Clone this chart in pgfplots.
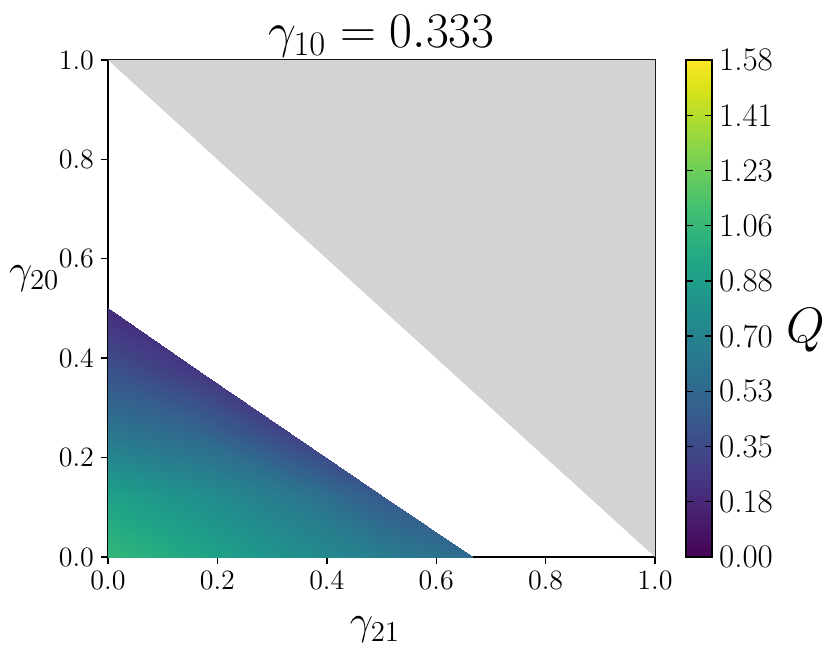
\documentclass[border=0pt]{standalone}
\usepackage{pgfplots}
\pgfplotsset{compat=1.18}
\begin{document}
\begin{tikzpicture}
\path[use as bounding box] (-54pt,-53.5pt) rectangle (361pt,278.5pt);
\begin{axis}[
  at={(0,0)}, anchor=south west,
  scale only axis, width=273.5pt, height=248.5pt,
  xmin=0, xmax=1, ymin=0, ymax=1,
  xtick={0,0.2,0.4,0.6,0.8,1.0},
  ytick={0,0.2,0.4,0.6,0.8,1.0},
  xticklabels={0.0,0.2,0.4,0.6,0.8,1.0},
  yticklabels={0.0,0.2,0.4,0.6,0.8,1.0},
  tick pos=left, tick align=outside,
  major tick length=3.5pt,
  every tick/.style={black, line width=0.7pt},
  axis line style={line width=0.7pt},
  xticklabel style={font=\fontsize{14}{14}\selectfont},
  yticklabel style={font=\fontsize{14}{14}\selectfont},
  title={$\gamma_{10} = 0.333$},
  title style={font=\fontsize{26.5}{26.5}\selectfont, at={(axis description cs:0.5,1)}, anchor=south, inner sep=0pt, yshift=-5pt},
  xlabel={$\gamma_{21}$},
  ylabel={$\gamma_{20}$},
  every axis x label/.style={at={(axis description cs:0.488,-0.147)}, anchor=center, font=\fontsize{21}{21}\selectfont},
  every axis y label/.style={at={(axis description cs:-0.135,0.56)}, anchor=center, font=\fontsize{21}{21}\selectfont},
  colormap name=viridis,
  point meta min=0, point meta max=1.58,
  colorbar,
  colorbar style={
    width=13pt,
    at={(parent axis.north east)}, anchor=north west, xshift=7pt,
    ytick={0,0.17556,0.35111,0.52667,0.70222,0.87778,1.05333,1.22889,1.40444,1.58},
    yticklabels={0.00,0.18,0.35,0.53,0.70,0.88,1.06,1.23,1.41,1.58},
    yticklabel style={font=\fontsize{16.5}{16.5}\selectfont},
    major tick length=3.5pt,
    every tick/.style={black, line width=0.7pt},
    axis line style={line width=0.7pt},
    ylabel={$Q$},
    every axis y label/.style={at={(axis description cs:4.62,0.457)}, anchor=center, font=\fontsize{25}{25}\selectfont},
  },
]
\addplot[fill={rgb,255:red,211;green,211;blue,211}, draw=none, forget plot] coordinates {(0,1) (1,1) (1,0)} -- cycle;
\addplot[patch, shader=interp, patch type=triangle] table[point meta=\thisrow{c}] {
x y c
0 0 1.05
0.16667 0 0.93
0 0.125 0.90
0.16667 0 0.93
0.33333 0 0.79
0.16667 0.125 0.78
0.33333 0 0.79
0.5 0 0.67
0.33333 0.125 0.64
0.5 0 0.67
0.66667 0 0.55
0.5 0.125 0.44
0.16667 0 0.93
0.16667 0.125 0.78
0 0.125 0.90
0.33333 0 0.79
0.33333 0.125 0.64
0.16667 0.125 0.78
0.5 0 0.67
0.5 0.125 0.44
0.33333 0.125 0.64
0 0.125 0.90
0.16667 0.125 0.78
0 0.25 0.62
0.16667 0.125 0.78
0.33333 0.125 0.64
0.16667 0.25 0.52
0.33333 0.125 0.64
0.5 0.125 0.44
0.33333 0.25 0.31
0.16667 0.125 0.78
0.16667 0.25 0.52
0 0.25 0.62
0.33333 0.125 0.64
0.33333 0.25 0.31
0.16667 0.25 0.52
0 0.25 0.62
0.16667 0.25 0.52
0 0.375 0.40
0.16667 0.25 0.52
0.33333 0.25 0.31
0.16667 0.375 0.25
0.16667 0.25 0.52
0.16667 0.375 0.25
0 0.375 0.40
0 0.375 0.40
0.16667 0.375 0.25
0 0.5 0.20
};
\end{axis}
\end{tikzpicture}
\end{document}
